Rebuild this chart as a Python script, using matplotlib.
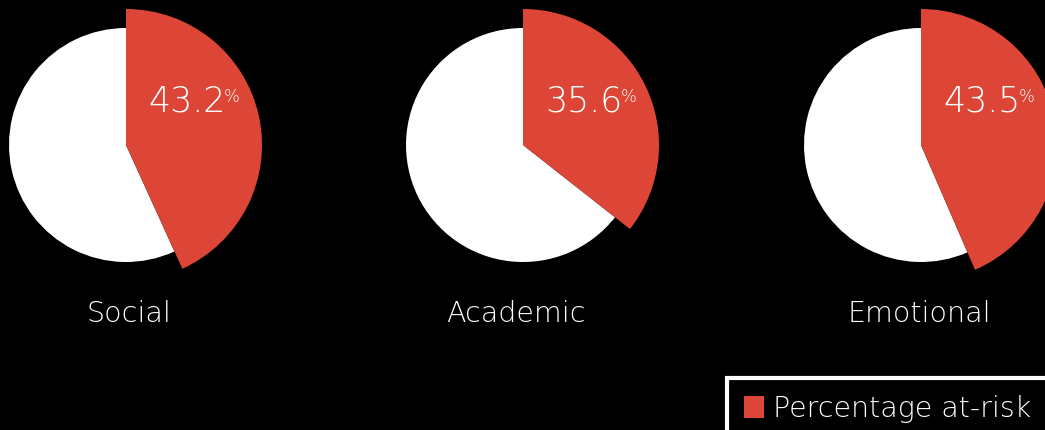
import matplotlib
matplotlib.use('agg')
import matplotlib.pyplot as plt

categories = ['Social', 'Academic', 'Emotional']
at_risk = [43.2, 35.6, 43.5]
legend_label = 'Percentage at-risk'

RED = '#DD4636'
plt.rcParams['font.family'] = ['DejaVu Sans']

fig = plt.figure(figsize=(10.45, 4.30), dpi=100, facecolor='black')
ax = fig.add_axes([0, 0, 1, 1])
ax.set_facecolor('black')

# pie centres and label centres in pixels
centers_x = [126, 523, 921]
label_x = [129, 516, 919]
cy = 430 - 145
r_small, r_big = 117, 136

red_handle = None
for cat, val, cx, lx in zip(categories, at_risk, centers_x, label_x):
    wedges, _ = ax.pie([val, 100 - val], colors=[RED, 'white'], startangle=90,
                       counterclock=False, radius=r_small, center=(cx, cy),
                       wedgeprops=dict(linewidth=0))
    wedges[0].set_radius(r_big)
    wedges[0].set_zorder(3)
    red_handle = wedges[0]
    t = ax.text(cx + 22, cy + 43, f'{val}', color='white', fontsize=25,
                fontweight=200, ha='left', va='center', zorder=5)
    ax.annotate('%', xy=(0.98, 0.92), xycoords=t, color='white', fontsize=12,
                fontweight=200, ha='left', va='top', zorder=5)
    ax.text(lx, 430 - 322, cat, color='white', fontsize=20.5,
            fontweight=200, ha='center', va='baseline')

ax.set_xlim(0, 1045)
ax.set_ylim(0, 430)
ax.set_aspect('equal')
ax.axis('off')

leg = fig.legend([red_handle], [legend_label], loc='upper left',
                 bbox_to_anchor=(727 / 1045, 1 - 378 / 430), fontsize=20.5,
                 frameon=True, facecolor='black', edgecolor='white', fancybox=False,
                 handlelength=0.7, handleheight=0.78, handletextpad=0.3,
                 borderpad=0.6, borderaxespad=0)
leg.get_frame().set_linewidth(3)
leg.get_frame().set_alpha(1)
for txt in leg.get_texts():
    txt.set_color('white')
    txt.set_fontweight(200)

fig.savefig('out.png', dpi=100, facecolor='black')
